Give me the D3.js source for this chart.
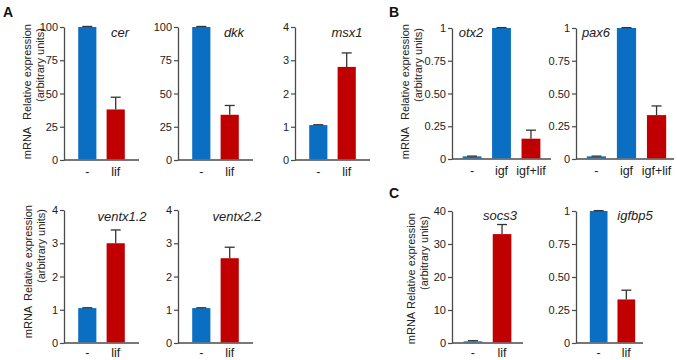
<!DOCTYPE html>
<html><head><meta charset="utf-8">
<script src="https://cdn.jsdelivr.net/npm/d3@7"></script>
<style>
html,body{margin:0;padding:0;background:#fff;}
svg{display:block;font-family:"Liberation Sans",Arial,sans-serif;}
</style></head>
<body><svg id="c" width="677" height="360"></svg>
<script>
// ---- data ----
const condLif = ["-", "lif"];
const condIgf = ["-", "igf", "igf+lif"];

const cerMean = [100, 38];      const cerErr = [0.4, 9.2];
const dkkMean = [100, 34];      const dkkErr = [0.4, 7];
const msx1Mean = [1.05, 2.8];   const msx1Err = [0.01, 0.42];
const ventx12Mean = [1.05, 3.0];  const ventx12Err = [0.01, 0.4];
const ventx22Mean = [1.05, 2.55]; const ventx22Err = [0.01, 0.33];
const otx2Mean = [0.02, 1.0, 0.155]; const otx2Err = [0.002, 0.003, 0.065];
const pax6Mean = [0.02, 1.0, 0.335]; const pax6Err = [0.002, 0.003, 0.07];
const socs3Mean = [0.5, 33];    const socs3Err = [0.2, 2.9];
const igfbp5Mean = [1.0, 0.33]; const igfbp5Err = [0.003, 0.07];

const ticksPct = [0, 25, 50, 75, 100];
const ticksPctLabels = ["0", "25", "50", "75", "100"];
const ticks4 = [0, 1, 2, 3, 4];
const ticks4Labels = ["0", "1", "2", "3", "4"];
const ticksFrac = [0, 0.25, 0.5, 0.75, 1];
const ticksFracLabels = ["0", "0.25", "0.50", "0.75", "1"];
const ticks40 = [0, 10, 20, 30, 40];
const ticks40Labels = ["0", "10", "20", "30", "40"];

const barColors = {"-": "#0a6fc2", "igf": "#0a6fc2", "lif": "#c00000", "igf+lif": "#c00000"};

// ---- layout ----
const panels = [
  {gene:"cer", cats:condLif, mean:cerMean, err:cerErr, ticks:ticksPct, tl:ticksPctLabels,
   x0:64, x1:139, line:139, outer:0.5, y0:160, y1:27, tx:120, ty:37, ly:16},
  {gene:"dkk", cats:condLif, mean:dkkMean, err:dkkErr, ticks:ticksPct, tl:ticksPctLabels,
   x0:178, x1:253, line:253, outer:0.5, y0:160, y1:27, tx:234, ty:37, ly:16},
  {gene:"msx1", cats:condLif, mean:msx1Mean, err:msx1Err, ticks:ticks4, tl:ticks4Labels,
   x0:295, x1:370, line:370, outer:0.5, y0:160, y1:27, tx:347, ty:37, ly:16},
  {gene:"ventx1.2", cats:condLif, mean:ventx12Mean, err:ventx12Err, ticks:ticks4, tl:ticks4Labels,
   x0:64, x1:139, line:139, outer:0.5, y0:343, y1:210, tx:122, ty:221, ly:13.5},
  {gene:"ventx2.2", cats:condLif, mean:ventx22Mean, err:ventx22Err, ticks:ticks4, tl:ticks4Labels,
   x0:178, x1:253, line:253, outer:0.5, y0:343, y1:210, tx:237, ty:221, ly:13.5},
  {gene:"otx2", cats:condIgf, mean:otx2Mean, err:otx2Err, ticks:ticksFrac, tl:ticksFracLabels,
   x0:452, x1:551, line:551, outer:0.36, y0:159, y1:28, tx:471, ty:37, ly:16},
  {gene:"pax6", cats:condIgf, mean:pax6Mean, err:pax6Err, ticks:ticksFrac, tl:ticksFracLabels,
   x0:576, x1:677, line:674, outer:0.36, y0:159, y1:28, tx:596, ty:37, ly:16},
  {gene:"socs3", cats:condLif, mean:socs3Mean, err:socs3Err, ticks:ticks40, tl:ticks40Labels,
   x0:452, x1:523, line:523, outer:0.4, y0:343, y1:211, tx:500, ty:220, ly:13.5},
  {gene:"igfbp5", cats:condLif, mean:igfbp5Mean, err:igfbp5Err, ticks:ticksFrac, tl:ticksFracLabels,
   x0:576, x1:649, line:643, outer:0.5, y0:343, y1:211, tx:635, ty:220, ly:13.5}
];

const ylabels = [
  {x1:31, x2:44, yRE:72, yM:143, yAU:65},
  {x1:32, x2:45, yRE:253, yM:322, yAU:246},
  {x1:409, x2:422, yRE:72, yM:143, yAU:65},
  {x1:415, x2:428, yRE:261, yM:328, yAU:253}
];
const letters = [{t:"A", x:3, y:17}, {t:"B", x:389, y:17}, {t:"C", x:389, y:198}];

const svg = d3.select("#c");
const axisCol = "#4a4a4a";

panels.forEach(p => {
  const x = d3.scaleBand().domain(p.cats).range([p.x0, p.x1]).paddingInner(0.36).paddingOuter(p.outer);
  const ymax = p.ticks[p.ticks.length - 1];
  const y = d3.scaleLinear().domain([0, ymax]).range([p.y0, p.y1]);
  const g = svg.append("g");

  const ax = g.append("g").attr("transform", `translate(${p.x0},0)`)
    .call(d3.axisLeft(y).tickValues(p.ticks).tickFormat((d, i) => p.tl[i]).tickSize(4).tickPadding(2).tickSizeOuter(0));
  ax.select(".domain").attr("stroke", axisCol).attr("stroke-width", 1.3);
  ax.selectAll(".tick line").attr("stroke", axisCol).attr("stroke-width", 1.2);
  ax.selectAll(".tick text").attr("fill", "#222").style("font-size", "11px").style("font-family", "Liberation Sans, Arial, sans-serif");

  g.append("line").attr("x1", p.x0).attr("x2", p.line).attr("y1", p.y0).attr("y2", p.y0)
    .attr("stroke", axisCol).attr("stroke-width", 1.3);

  const data = p.cats.map((c, i) => ({c, m: p.mean[i], e: p.err[i]}));
  g.selectAll("rect.bar").data(data).enter().append("rect")
    .attr("x", d => x(d.c)).attr("width", x.bandwidth())
    .attr("y", d => y(d.m)).attr("height", d => y(0) - y(d.m) - 0.7)
    .attr("fill", d => barColors[d.c]);

  const eb = g.selectAll("g.eb").data(data).enter().append("g");
  eb.append("line").attr("x1", d => x(d.c) + x.bandwidth()/2).attr("x2", d => x(d.c) + x.bandwidth()/2)
    .attr("y1", d => y(d.m)).attr("y2", d => y(d.m + d.e)).attr("stroke", "#333").attr("stroke-width", 1.3);
  eb.append("line").attr("x1", d => x(d.c) + x.bandwidth()/2 - 5).attr("x2", d => x(d.c) + x.bandwidth()/2 + 5)
    .attr("y1", d => y(d.m + d.e)).attr("y2", d => y(d.m + d.e)).attr("stroke", "#333").attr("stroke-width", 1.3);

  g.selectAll("text.cat").data(p.cats).enter().append("text")
    .attr("x", d => x(d) + x.bandwidth()/2).attr("y", p.y0 + p.ly)
    .attr("text-anchor", "middle").style("font-size", "12.5px").attr("fill", "#222").text(d => d);

  g.append("text").attr("x", p.tx).attr("y", p.ty).attr("text-anchor", "middle")
    .style("font-size", "13px").style("font-style", "italic").attr("fill", "#222").text(p.gene);
});

ylabels.forEach(l => {
  const mk = (xx, yy, t) => svg.append("text").attr("transform", `translate(${xx},${yy}) rotate(-90)`)
    .attr("text-anchor", "middle").style("font-size", "11px").attr("fill", "#222").text(t);
  mk(l.x1, l.yRE, "Relative expression");
  mk(l.x1, l.yM, "mRNA");
  mk(l.x2, l.yAU, "(arbitrary units)");
});

letters.forEach(l => svg.append("text").attr("x", l.x).attr("y", l.y)
  .style("font-size", "14px").style("font-weight", "bold").attr("fill", "#111").text(l.t));
</script></body></html>
